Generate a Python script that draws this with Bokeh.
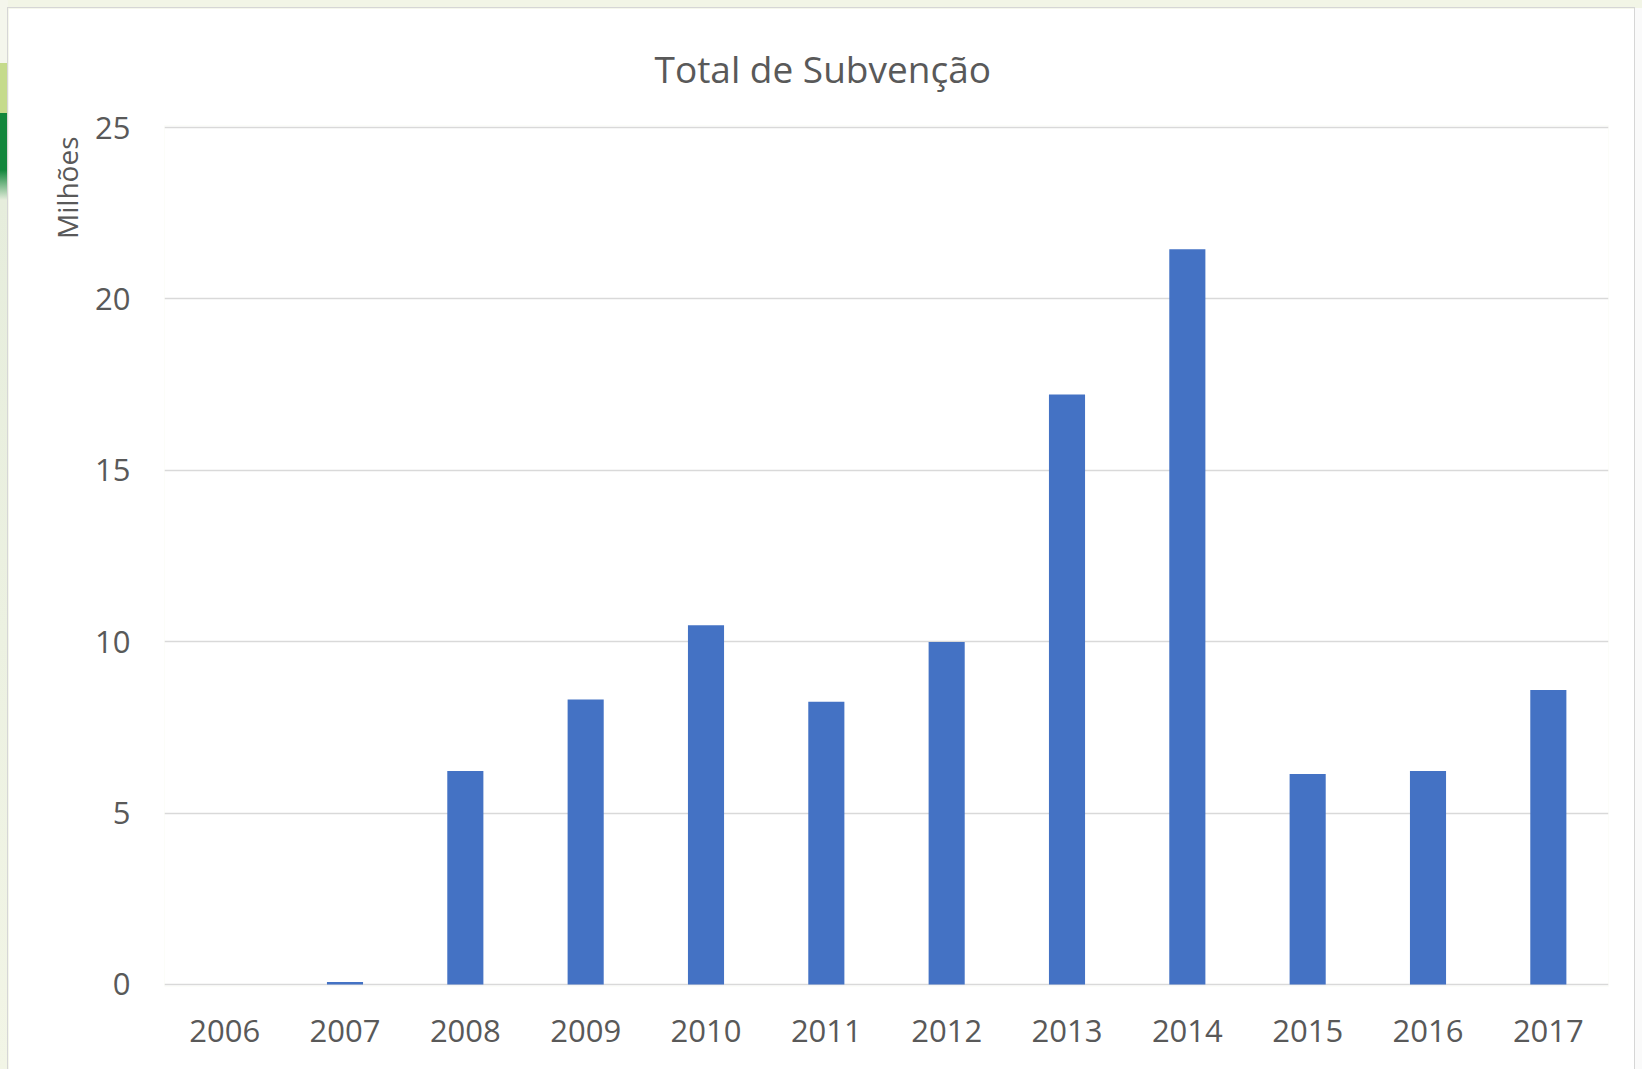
from bokeh.plotting import figure
from bokeh.layouts import column
from bokeh.models import Range1d, FactorRange, Title, ColumnDataSource, FixedTicker
from bokeh.embed import file_html
from bokeh.resources import INLINE

years = ["2006", "2007", "2008", "2009", "2010", "2011", "2012", "2013", "2014", "2015", "2016", "2017"]
values = [0.0, 0.07, 6.23, 8.31, 10.48, 8.25, 9.99, 17.21, 21.45, 6.14, 6.23, 8.59]
y_ticks = [0, 5, 10, 15, 20, 25]
title_text = "Total de Subvenção"
y_label_text = "Milhões"

FONT = "Open Sans"
TXT = "#595959"

src = ColumnDataSource(data=dict(years=years, values=values))

fig = figure(
    x_range=FactorRange(factors=years),
    y_range=Range1d(-0.06, 25.06),
    width=1626, height=1061,
    frame_width=1444, frame_height=861,
    min_border_left=156, min_border_right=26, min_border_top=117, min_border_bottom=83,
    output_backend="svg", toolbar_location=None, title=None,
)
fig.outline_line_color = None
fig.background_fill_color = "white"
fig.border_fill_color = "white"
fig.styles = {"outline": "1px solid #d6d6d6"}

fig.vbar(x="years", top="values", bottom=0, width=0.3, source=src, color="#4472C4", line_color=None)

fig.yaxis.ticker = FixedTicker(ticks=y_ticks)
fig.ygrid.grid_line_color = "#d9d9d9"
fig.ygrid.grid_line_width = 1.5
fig.xgrid.grid_line_color = None

for ax in (fig.xaxis, fig.yaxis):
    ax.axis_line_color = None
    ax.major_tick_line_color = None
    ax.minor_tick_line_color = None
    ax.major_tick_out = 0
    ax.major_tick_in = 0
    ax.major_label_text_font = FONT
    ax.major_label_text_color = TXT
    ax.major_label_text_font_size = "31px"

fig.xaxis.major_label_standoff = 33
fig.yaxis.major_label_standoff = 34

fig.add_layout(Title(text=title_text, align="left", offset=490, standoff=63,
                     text_font=FONT, text_font_size="37px", text_font_style="normal",
                     text_color=TXT), "above")
fig.add_layout(Title(text=y_label_text, align="right", offset=11, standoff=14,
                     text_font=FONT, text_font_size="28px", text_font_style="normal",
                     text_color=TXT), "left")

page_bg = (
    "linear-gradient(to bottom, #f4f6ec 0px, #f4f6ec 63px, #c5db8b 63px, #c5db8b 113px, "
    "#13873b 113px, #13873b 170px, #e6eddc 200px, #f2f5e6 100%) left top / 8px 100% no-repeat, "
    "linear-gradient(#fafafa, #fafafa) right bottom / 8px calc(100% - 8px) no-repeat, "
    "#f2f5e6"
)
p = column(fig, styles={"background": page_bg, "padding-left": "8px",
                        "padding-top": "8px", "width": "1642px", "height": "1069px"})

open("out.html", "w").write(file_html(p, INLINE))
